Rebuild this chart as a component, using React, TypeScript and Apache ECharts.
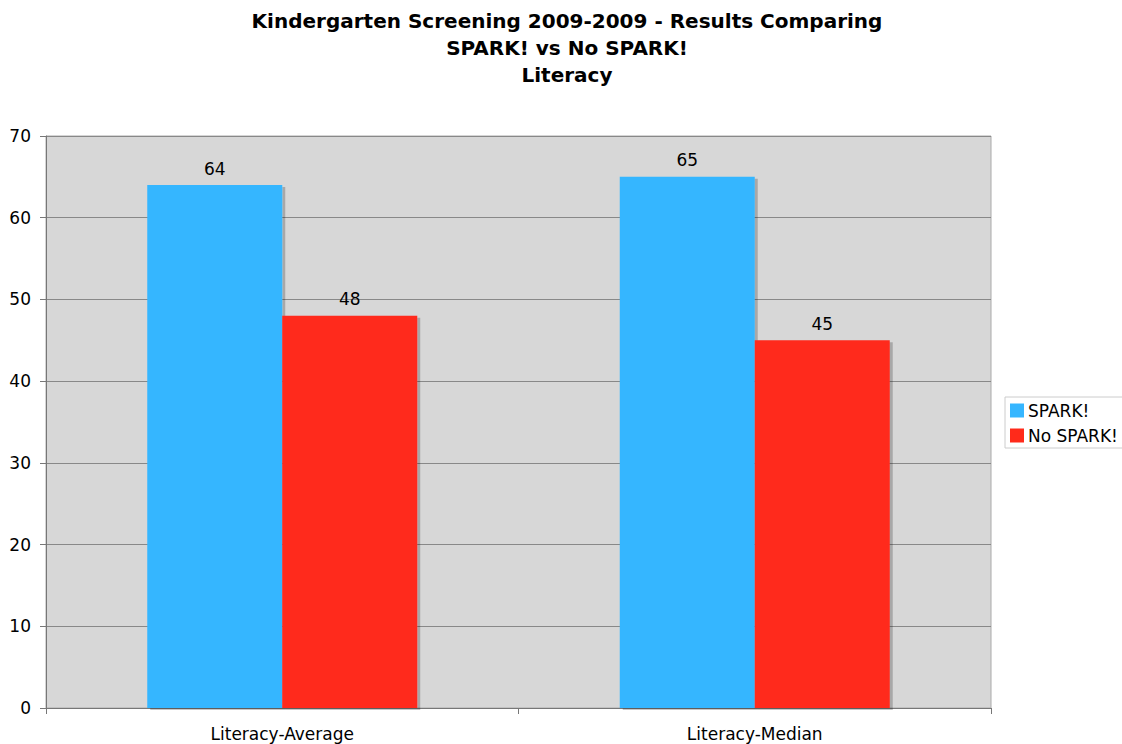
import React, { useEffect, useRef } from "react";
import * as echarts from "echarts";

const categories = ["Literacy-Average", "Literacy-Median"];
const sparkValues = [64, 65];
const noSparkValues = [48, 45];
const seriesNames = ["SPARK!", "No SPARK!"];
const titleText = "Kindergarten Screening 2009-2009 - Results Comparing\nSPARK! vs No SPARK!\nLiteracy";

export default function App() {
  const ref = useRef<HTMLDivElement>(null);
  useEffect(() => {
    if (!ref.current) return;
    const chart = echarts.init(ref.current, null, { renderer: "svg" });
    const font = "DejaVu Sans, Verdana, sans-serif";
    const barStyle = (color: string) => ({
      color,
      shadowColor: "rgba(0,0,0,0.22)",
      shadowOffsetX: 3,
      shadowOffsetY: 2,
      shadowBlur: 0,
    });
    chart.setOption({
      animation: false,
      backgroundColor: "#ffffff",
      textStyle: { fontFamily: font },
      title: {
        text: titleText,
        left: 562,
        textAlign: "center",
        top: 2,
        textStyle: { fontFamily: font, fontSize: 20, fontWeight: "bold", color: "#000", lineHeight: 27 },
      },
      legend: {
        orient: "vertical",
        left: 1005,
        top: 397,
        itemWidth: 14,
        itemHeight: 14,
        itemGap: 8,
        padding: [5, 8, 4, 5],
        borderColor: "#cccccc",
        borderWidth: 1,
        icon: "rect",
        textStyle: { fontFamily: font, fontSize: 17, color: "#000", padding: [0, 0, 0, -1] },
        data: seriesNames,
      },
      grid: {
        left: 46,
        right: 131,
        top: 136,
        bottom: 36,
        show: true,
        backgroundColor: "#d7d7d7",
        borderColor: "#aaaaaa",
        borderWidth: 1,
      },
      xAxis: {
        type: "category",
        data: categories,
        axisLine: { lineStyle: { color: "#777", width: 1 } },
        axisTick: { show: true, length: 6, lineStyle: { color: "#777" } },
        axisLabel: { fontFamily: font, fontSize: 17, color: "#000", margin: 17 },
      },
      yAxis: {
        type: "value",
        min: 0,
        max: 70,
        interval: 10,
        axisLine: { show: true, lineStyle: { color: "#777", width: 1 } },
        axisTick: { show: true, length: 6, lineStyle: { color: "#777" } },
        axisLabel: { fontFamily: font, fontSize: 17, color: "#000", margin: 15 },
        splitLine: { show: true, lineStyle: { color: "#888", width: 1 } },
      },
      series: [
        {
          name: seriesNames[0],
          type: "bar",
          data: sparkValues,
          barWidth: 135,
          barGap: "0%",
          itemStyle: barStyle("#36b6ff"),
          label: { show: true, position: "top", distance: 8, fontFamily: font, fontSize: 17, color: "#000" },
        },
        {
          name: seriesNames[1],
          type: "bar",
          data: noSparkValues,
          barWidth: 135,
          barGap: "0%",
          itemStyle: barStyle("#ff2a1a"),
          label: { show: true, position: "top", distance: 8, fontFamily: font, fontSize: 17, color: "#000" },
        },
      ],
    });
    return () => chart.dispose();
  }, []);
  return (
    <div
      ref={ref}
      style={{ position: "fixed", left: 0, top: 0, width: 1122, height: 744 }}
    />
  );
}
